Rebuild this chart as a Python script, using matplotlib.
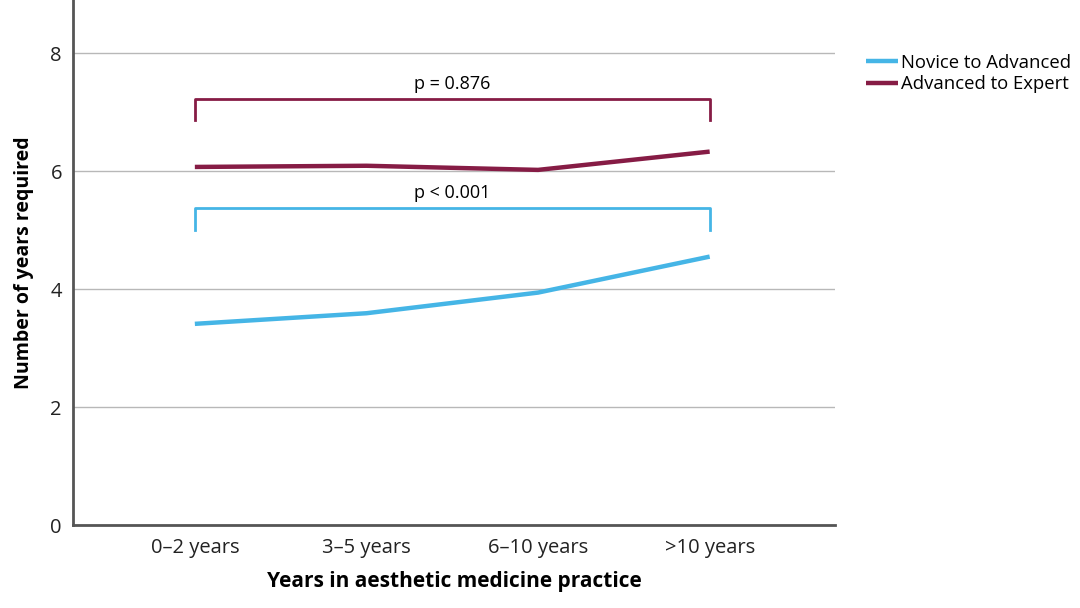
import numpy as np
import matplotlib.pyplot as plt

plt.rcParams['font.family'] = ['Open Sans', 'DejaVu Sans']

categories = ['0–2 years', '3–5 years', '6–10 years', '>10 years']
novice = [3.41, 3.59, 3.94, 4.55]
expert = [6.07, 6.09, 6.02, 6.33]
p_novice = 'p < 0.001'
p_expert = 'p = 0.876'

blue = '#45b5e6'
maroon = '#861c45'

x = np.arange(len(categories))

fig = plt.figure(figsize=(10.8, 6.08), dpi=100)
ax = fig.add_axes([0.0676, 0.1365, 0.7055, 0.8635])

ax.plot(x, novice, color=blue, lw=3.2, label='Novice to Advanced', solid_capstyle='butt')
ax.plot(x, expert, color=maroon, lw=3.2, label='Advanced to Expert', solid_capstyle='butt')

# significance brackets
def bracket(y_top, y_end, col, txt):
    ax.plot([x[0], x[0], x[-1], x[-1]], [y_end, y_top, y_top, y_end], color=col, lw=2)
    ax.text((x[0] + x[-1]) / 2, y_top + 0.1, txt, ha='center', va='bottom', fontsize=13)

bracket(7.23, 6.86, maroon, p_expert)
bracket(5.37, 5.0, blue, p_novice)

ax.set_xlim(-0.71, 3.73)
ax.set_ylim(0, 8.9)
ax.set_yticks([0, 2, 4, 6, 8])
ax.set_xticks(x)
ax.set_xticklabels(categories)
ax.tick_params(length=0, labelsize=14.5, colors='#222222')
ax.tick_params(axis='y', pad=8)
ax.tick_params(axis='x', pad=9)
ax.grid(axis='y', color='#b8b8b8', lw=1)
ax.set_axisbelow(True)
for s in ['top', 'right']:
    ax.spines[s].set_visible(False)
for s in ['left', 'bottom']:
    ax.spines[s].set_color('#555555')
    ax.spines[s].set_linewidth(2)

ax.set_xlabel('Years in aesthetic medicine practice', fontsize=15, fontweight='bold', labelpad=10)
ax.set_ylabel('Number of years required', fontsize=14, fontweight='bold', labelpad=12)

fig.legend(loc='upper left', bbox_to_anchor=(0.802, 0.912), frameon=False, fontsize=13.3,
           handlelength=1.7, handletextpad=0.2, labelspacing=0.2, borderaxespad=0, borderpad=0)

fig.savefig('out.png', dpi=100)
